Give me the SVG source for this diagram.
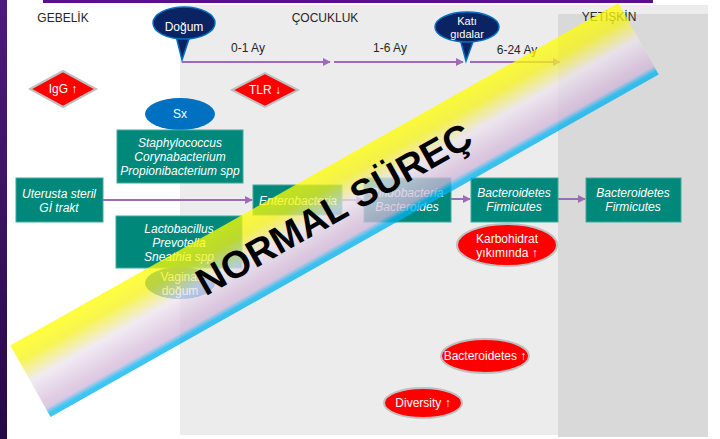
<svg xmlns="http://www.w3.org/2000/svg" width="720" height="439" viewBox="0 0 720 439">
<style>
.hdr{font-family:"Liberation Sans",Arial,sans-serif;font-size:12px;fill:#262626}
.lbl{font-family:"Liberation Sans",Arial,sans-serif;font-size:12px;fill:#262626}
.box{fill:#00897b;stroke:#40a89c;stroke-width:1}
.bt{font-family:"Liberation Sans",Arial,sans-serif;font-size:12px;font-style:italic;fill:#ffffff;text-anchor:middle}
.wt{font-family:"Liberation Sans",Arial,sans-serif;font-size:12px;fill:#ffffff;text-anchor:middle}
.red{fill:#ff0000;stroke:#bfbfbf;stroke-width:2}
.blue{fill:#0070c0}
.conn{stroke:#9e6cb6;stroke-width:2;fill:none;marker-end:url(#ah)}
</style>
<defs>
<marker id="ah" viewBox="0 0 10 10" refX="9" refY="5" markerWidth="4" markerHeight="4" orient="auto" markerUnits="strokeWidth">
<path d="M0,0 L10,5 L0,10 z" fill="#9e6cb6"/>
</marker>
<linearGradient id="strip" x1="0" y1="0" x2="0" y2="1">
<stop offset="0" stop-color="#4d1a80"/>
<stop offset="1" stop-color="#260845"/>
</linearGradient>
<linearGradient id="bandGrad" x1="0" y1="0" x2="0" y2="1">
<stop offset="0" stop-color="#ffff00"/>
<stop offset="0.22" stop-color="#f6f218"/>
<stop offset="0.5" stop-color="#ece4ef"/>
<stop offset="0.78" stop-color="#d8bfdc"/>
<stop offset="0.88" stop-color="#ceb6da"/>
<stop offset="0.95" stop-color="#00b4f0"/>
<stop offset="1" stop-color="#00b0f0"/>
</linearGradient>
</defs>

<rect x="0" y="0" width="720" height="439" fill="#ffffff"/>
<rect x="0" y="0" width="7" height="439" fill="url(#strip)"/>
<rect x="43" y="0" width="610" height="3" fill="#5c0f8b"/>
<rect x="180" y="5" width="528" height="430" fill="#ececec"/>
<rect x="558" y="14" width="150" height="423" fill="#d9d9d9"/>

<text class="hdr" x="63" y="22" text-anchor="middle">GEBELİK</text>
<text class="hdr" x="325" y="22" text-anchor="middle">ÇOCUKLUK</text>
<text class="hdr" x="609" y="21" text-anchor="middle">YETİŞKİN</text>

<g id="connectors">
<line class="conn" x1="182" y1="62" x2="330" y2="62"/>
<line class="conn" x1="334" y1="62" x2="463" y2="62"/>
<line class="conn" x1="470" y1="62" x2="560" y2="62"/>
<line class="conn" x1="103" y1="200" x2="252" y2="200"/>
<line class="conn" x1="342" y1="200" x2="363" y2="200"/>
<line class="conn" x1="451" y1="199" x2="470" y2="199"/>
<line class="conn" x1="558" y1="199" x2="585" y2="199"/>
</g>

<text class="lbl" x="248" y="52" text-anchor="middle">0-1 Ay</text>
<text class="lbl" x="390" y="52" text-anchor="middle">1-6 Ay</text>
<text class="lbl" x="517" y="54" text-anchor="middle">6-24 Ay</text>

<g id="dogum">
<path d="M176,36 L182,60 L190,36 z" fill="#0a2463" stroke="#0070c0" stroke-width="1.5"/>
<ellipse cx="184" cy="23" rx="31" ry="16" fill="#0a2463" stroke="#0070c0" stroke-width="1.5"/>
<path d="M177,36 L189,36" stroke="#0a2463" stroke-width="3"/>
<text class="wt" x="184" y="31">Doğum</text>
</g>

<g id="kati">
<path d="M460,39 L466,61 L474,39 z" fill="#0a2463" stroke="#0070c0" stroke-width="1.5"/>
<ellipse cx="467" cy="27" rx="32" ry="15" fill="#0a2463" stroke="#0070c0" stroke-width="1.5"/>
<path d="M461,39 L473,39" stroke="#0a2463" stroke-width="3"/>
<text class="wt" x="467" y="25" style="font-size:11px">Katı</text>
<text class="wt" x="467" y="38" style="font-size:11px">gıdalar</text>
</g>

<g id="igg">
<polygon class="red" points="30,89 63,71 96,89 63,107"/>
<text class="wt" x="63" y="93">IgG ↑</text>
</g>
<g id="tlr">
<polygon class="red" points="232,90 265,73 298,90 265,107"/>
<text class="wt" x="265" y="94">TLR ↓</text>
</g>

<g id="sx">
<ellipse class="blue" cx="180" cy="114" rx="35" ry="16"/>
<text class="wt" x="180" y="118">Sx</text>
</g>

<g id="staph">
<rect class="box" x="117" y="130" width="126" height="53"/>
<text class="bt" x="180" y="147">Staphylococcus</text>
<text class="bt" x="180" y="161">Corynabacterium</text>
<text class="bt" x="180" y="175">Propionibacterium spp</text>
</g>

<g id="uterus">
<rect class="box" x="16" y="178" width="87" height="44"/>
<text class="bt" x="59" y="198">Uterusta steril</text>
<text class="bt" x="59" y="212">Gİ trakt</text>
</g>

<g id="lacto">
<rect class="box" x="116" y="216" width="126" height="52"/>
<text class="bt" x="179" y="233">Lactobacillus</text>
<text class="bt" x="179" y="247">Prevotella</text>
<text class="bt" x="179" y="261">Sneathia spp</text>
</g>

<g id="vaginal">
<ellipse class="blue" cx="180" cy="283" rx="35" ry="16"/>
<text class="wt" x="180" y="281">Vaginal</text>
<text class="wt" x="180" y="295">doğum</text>
</g>

<g id="entero">
<rect class="box" x="253" y="185" width="89" height="30"/>
<text class="bt" x="298" y="205">Enterobacteria</text>
</g>

<g id="bifido">
<rect class="box" x="364" y="178" width="87" height="44"/>
<text class="bt" x="407" y="197">Bifidobacteria</text>
<text class="bt" x="407" y="211">Bacteroides</text>
</g>

<g id="bactfirm1">
<rect class="box" x="471" y="178" width="87" height="44"/>
<text class="bt" x="514" y="197">Bacteroidetes</text>
<text class="bt" x="514" y="211">Firmicutes</text>
</g>

<g id="bactfirm2">
<rect class="box" x="586" y="178" width="95" height="44"/>
<text class="bt" x="633" y="197">Bacteroidetes</text>
<text class="bt" x="633" y="211">Firmicutes</text>
</g>

<g id="karbo">
<ellipse class="red" cx="507" cy="245" rx="50" ry="21"/>
<text class="wt" x="507" y="243">Karbohidrat</text>
<text class="wt" x="507" y="257">yıkımında ↑</text>
</g>

<g id="bacteroidetes-up">
<ellipse class="red" cx="485" cy="356" rx="44" ry="17"/>
<text class="wt" x="485" y="360">Bacteroidetes ↑</text>
</g>

<g id="diversity">
<ellipse class="red" cx="423" cy="403" rx="39" ry="15"/>
<text class="wt" x="423" y="407">Diversity ↑</text>
</g>

<g id="band" transform="translate(334.5,210) rotate(-29.4)">
<rect x="-349" y="-41" width="698" height="82" fill="url(#bandGrad)" opacity="0.76"/>
<text x="0" y="12" text-anchor="middle" style="font-family:'Liberation Sans',Arial,sans-serif;font-size:38px;font-weight:bold;fill:#000000">NORMAL SÜREÇ</text>
</g>
</svg>
